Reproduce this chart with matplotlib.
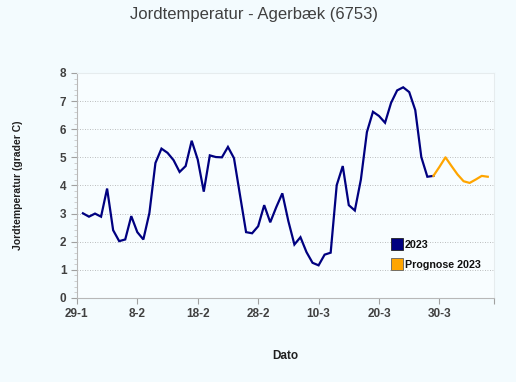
import matplotlib.pyplot as plt
from matplotlib.lines import Line2D
import numpy as np
import datetime as dt

plt.rcParams['font.family'] = ['Liberation Sans', 'DejaVu Sans']

start = dt.date(2023, 1, 29)
# målte værdier 30-1 .. 29-3
temp_2023 = [3.01, 2.89, 3.00, 2.89, 3.89, 2.41, 2.02, 2.08, 2.91, 2.34,
             2.08, 3.02, 4.80, 5.31, 5.16, 4.90, 4.48, 4.69, 5.59, 4.92,
             3.78, 5.07, 5.01, 5.00, 5.37, 4.97, 3.65, 2.34, 2.30, 2.55,
             3.30, 2.69, 3.23, 3.72, 2.73, 1.90, 2.16, 1.63, 1.25, 1.16,
             1.54, 1.61, 4.01, 4.69, 3.30, 3.11, 4.21, 5.90, 6.62, 6.47,
             6.23, 6.94, 7.38, 7.49, 7.32, 6.68, 5.01, 4.31, 4.34]
# prognose 29-3 .. 7-4
prognose = [4.34, 4.66, 5.00, 4.69, 4.39, 4.15, 4.09, 4.21, 4.34, 4.31]
tick_days = [0, 10, 20, 30, 40, 50, 60, 69]

x1 = np.arange(1, 1 + len(temp_2023))
x2 = np.arange(x1[-1], x1[-1] + len(prognose))
labels = []
for d in tick_days:
    if d % 10 == 0:
        t = start + dt.timedelta(days=d)
        labels.append('%d-%d' % (t.day, t.month))
    else:
        labels.append('')

bg = '#F3FBFE'
fig = plt.figure(figsize=(5.16, 3.82), dpi=100, facecolor=bg)
ax = fig.add_axes([0.149, 0.220, 0.808, 0.589])
ax.set_facecolor('#F8FDFF')

ax.plot(x1, temp_2023, color='#000080', lw=1.6, solid_joinstyle='miter')
ax.plot(x2, prognose, color='#FFA500', lw=1.6)

ax.set_xlim(0, 69)
ax.set_ylim(0, 8)
ax.set_xticks(tick_days)
ax.set_xticklabels(labels)
ax.set_yticks(range(0, 9))
ax.set_yticks(np.arange(0, 8.01, 0.2), minor=True)
ax.grid(axis='y', which='major', color='#A8A8A8', ls=(0, (1, 2)), lw=0.6)
ax.set_axisbelow(True)

for s in ['top', 'right']:
    ax.spines[s].set_color('#E6ECEE')
    ax.spines[s].set_linewidth(0.8)
for s in ['left', 'bottom']:
    ax.spines[s].set_color('#B8B8B8')
    ax.spines[s].set_linewidth(0.8)

ax.tick_params(axis='both', which='major', colors='#A0A0A0', length=4, width=0.8,
               labelsize=8.5, labelcolor='#404040')
ax.tick_params(axis='y', which='minor', colors='#C8C8C8', length=2, width=0.6)
ax.tick_params(axis='x', which='minor', length=0)
for lab in ax.get_xticklabels() + ax.get_yticklabels():
    lab.set_fontweight('bold')

ax.set_ylabel('Jordtemperatur (grader C)', fontsize=7.5, fontweight='bold',
              color='#202020')
ax.yaxis.set_label_coords(-0.129, 0.5)
ax.set_xlabel('Dato', fontsize=8.5, fontweight='bold', color='#202020')
ax.xaxis.set_label_coords(0.5, -0.231)

fig.text(0.492, 0.962, 'Jordtemperatur - Agerbæk (6753)', ha='center', va='center',
         fontsize=12, color='#404040')

handles = [Line2D([], [], ls='none', marker='s', markersize=8, markerfacecolor='#000080',
                  markeredgecolor='#202020', markeredgewidth=0.6),
           Line2D([], [], ls='none', marker='s', markersize=8, markerfacecolor='#FFA500',
                  markeredgecolor='#606060', markeredgewidth=0.6)]
leg = ax.legend(handles, ['2023', 'Prognose 2023'], loc='upper left',
                bbox_to_anchor=(0.747, 0.278), frameon=False, handlelength=0.8,
                handletextpad=0.35, labelspacing=0.95, borderaxespad=0,
                prop={'size': 7.7, 'weight': 'bold'})
for t in leg.get_texts():
    t.set_color('#101010')

fig.savefig('out.png', dpi=100, facecolor=bg)
